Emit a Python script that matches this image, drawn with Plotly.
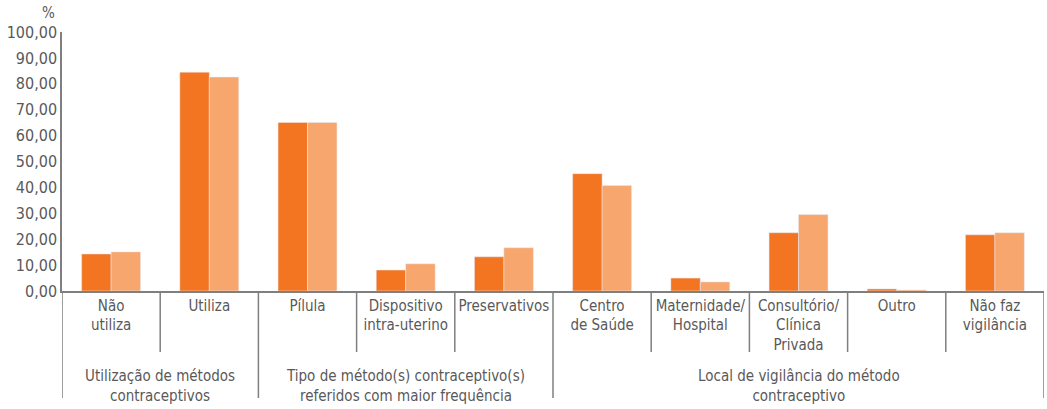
import plotly.graph_objects as go

# categories (inner level) and their groups
categories = ["Não<br>utiliza", "Utiliza", "Pílula", "Dispositivo<br>intra-uterino",
              "Preservativos", "Centro<br>de Saúde", "Maternidade/<br>Hospital",
              "Consultório/<br>Clínica<br>Privada", "Outro", "Não faz<br>vigilância"]
groups = ["Utilização de métodos<br>contraceptivos",
          "Tipo de método(s) contraceptivo(s)<br>referidos com maior frequência",
          "Local de vigilância do método<br>contraceptivo"]
group_sizes = [2, 3, 5]

serie_a = [14.3, 84.5, 65.1, 8.1, 13.2, 45.3, 5.0, 22.5, 0.8, 21.7]
serie_b = [15.1, 82.6, 65.1, 10.5, 16.7, 40.7, 3.5, 29.5, 0.4, 22.5]

W, H = 1047, 409
ml, mr, mt, mb = 62, 3, 32, 118
plot_h = H - mt - mb

FONT = "DejaVu Sans Condensed, Liberation Sans Narrow, Arial Narrow, sans-serif"
GREY = "#595959"
LINE = "#7f7f7f"

def py(px_below):
    # pixel offset below the x axis -> paper y
    return -px_below / plot_h

fig = go.Figure()
fig.add_trace(go.Bar(x=categories, y=serie_a, name="A", marker_color="#F37521"))
fig.add_trace(go.Bar(x=categories, y=serie_b, name="B", marker_color="#F7A66D"))

shapes = []
annotations = []
group_edges = [0]
for s in group_sizes:
    group_edges.append(group_edges[-1] + s)

# dividers between categories (short) and between groups (long)
for i in range(len(categories) + 1):
    long_line = i in group_edges
    shapes.append(dict(type="line", xref="x", yref="paper",
                       x0=i - 0.5, x1=i - 0.5, y0=0, y1=py(107 if long_line else 61),
                       line=dict(color=LINE, width=1.5)))

for g, txt in enumerate(groups):
    center = (group_edges[g] + group_edges[g + 1] - 1) / 2
    annotations.append(dict(x=center, xref="x", y=py(95), yref="paper",
                            text=txt, showarrow=False, yanchor="middle",
                            font=dict(family=FONT, size=15, color=GREY)))

annotations.append(dict(x=-0.014, xref="paper", y=1 + 19 / plot_h, yref="paper", text="%",
                        showarrow=False, xanchor="center", yanchor="middle",
                        font=dict(family=FONT, size=15, color=GREY)))

fig.update_layout(
    width=W, height=H,
    margin=dict(l=ml, r=mr, t=mt, b=mb),
    paper_bgcolor="white", plot_bgcolor="white",
    showlegend=False,
    barmode="group", bargap=0.4, bargroupgap=0,
    separators=",.",
    font=dict(family=FONT, size=15, color=GREY),
    shapes=shapes, annotations=annotations,
)
fig.update_xaxes(showline=True, linecolor=LINE, linewidth=1.5, ticks="",
                 showgrid=False, tickangle=0, range=[-0.5, len(categories) - 0.5],
                 automargin=False,
                 tickfont=dict(family=FONT, size=15, color=GREY))
fig.update_yaxes(range=[0, 100], dtick=10, tickformat=".2f", showgrid=False,
                 showline=True, linecolor=LINE, linewidth=1.5, ticks="",
                 zeroline=False, automargin=False,
                 tickfont=dict(family=FONT, size=16, color=GREY))

# drop the default body margin so the figure fills the window exactly
fig.write_html("out.html", config={"displayModeBar": False},
               post_script="document.body.style.margin='0';")
